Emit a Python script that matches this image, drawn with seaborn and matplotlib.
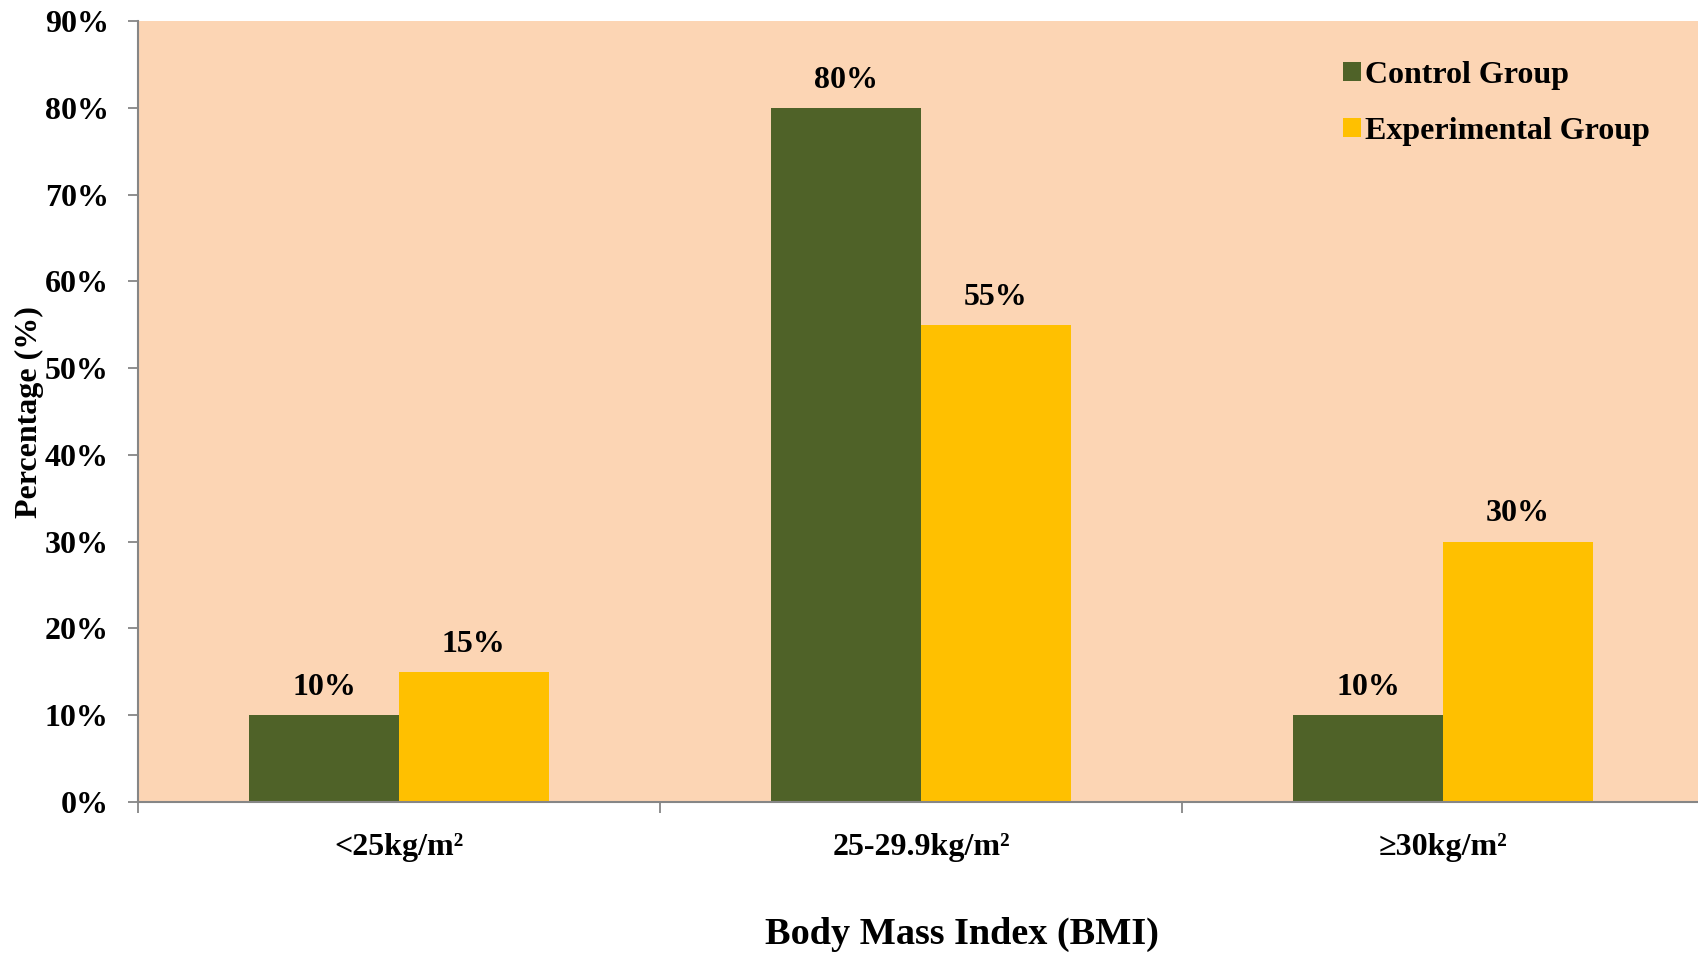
import pandas as pd
import numpy as np
import matplotlib
matplotlib.use('Agg')
import matplotlib.pyplot as plt
import seaborn as sns
from matplotlib.ticker import FuncFormatter

# data
categories = ['<25kg/m²', '25-29.9kg/m²', '≥30kg/m²']
groups = ['Control Group', 'Experimental Group']
control = [10, 80, 10]
experimental = [15, 55, 30]
yticks = list(range(0, 91, 10))

df = pd.DataFrame({
    'BMI': categories * 2,
    'Group': [groups[0]] * len(categories) + [groups[1]] * len(categories),
    'Percentage': control + experimental,
})

palette = {'Control Group': '#4F6228', 'Experimental Group': '#FFC000'}
grey = '#868686'

sns.set_theme(style='white')
plt.rcParams['font.family'] = ['Liberation Serif', 'DejaVu Serif']
plt.rcParams['font.weight'] = 'bold'
plt.rcParams['text.color'] = 'black'
plt.rcParams['xtick.color'] = 'black'
plt.rcParams['ytick.color'] = 'black'
plt.rcParams['xtick.labelcolor'] = 'black'
plt.rcParams['ytick.labelcolor'] = 'black'

W, H = 1698, 957
fig = plt.figure(figsize=(W / 100, H / 100), dpi=100)
# plot area runs slightly past the right edge of the image, like the reference
ax = fig.add_axes([138 / W, 1 - 802 / H, (1704 - 138) / W, (802 - 21) / H])

sns.barplot(data=df, x='BMI', y='Percentage', hue='Group', palette=palette,
            width=0.573, gap=0, saturation=1, linewidth=0, ax=ax)

ax.set_facecolor('#FCD5B4')
ax.set_xlim(-0.5, len(categories) - 0.5)
ax.set_ylim(0, 90)
ax.set_yticks(yticks)
ax.yaxis.set_major_formatter(FuncFormatter(lambda v, p: f'{v:.0f}%'))
ax.set_xticks(range(len(categories)))
ax.set_xticklabels(categories)
ax.set_xticks(np.arange(-0.5, len(categories)), minor=True)

ax.tick_params(axis='x', which='major', length=0, pad=22, labelsize=23)
ax.tick_params(axis='x', which='minor', length=8, width=1.3, color=grey, bottom=True)
ax.tick_params(axis='y', which='major', length=7, width=1.3, color=grey, left=True,
               pad=14, labelsize=23)
for lab in ax.get_xticklabels() + ax.get_yticklabels():
    lab.set_fontweight('bold')

for side in ['top', 'right']:
    ax.spines[side].set_visible(False)
for side in ['left', 'bottom']:
    ax.spines[side].set_color(grey)
    ax.spines[side].set_linewidth(1.5)

for cont in ax.containers:
    ax.bar_label(cont, fmt='%.0f%%', padding=9.5, fontsize=23, fontweight='bold',
                 color='black')

ax.set_xlabel('')
ax.set_ylabel('')
fig.text(29 / W, 1 - 412 / H, 'Percentage (%)', rotation=90, ha='center', va='center',
         fontsize=23, fontweight='bold')
fig.text(962 / W, 1 - 934 / H, 'Body Mass Index (BMI)', ha='center', va='center',
         fontsize=27.5, fontweight='bold')

ax.legend(loc='upper left', bbox_to_anchor=(1343 / W, 1 - 61 / H),
          bbox_transform=fig.transFigure, frameon=False,
          prop={'size': 23, 'weight': 'bold'}, handlelength=0.55, handleheight=0.55,
          handletextpad=0.15, labelspacing=0.84, borderpad=0, borderaxespad=0)

fig.savefig('out.png', dpi=100)
